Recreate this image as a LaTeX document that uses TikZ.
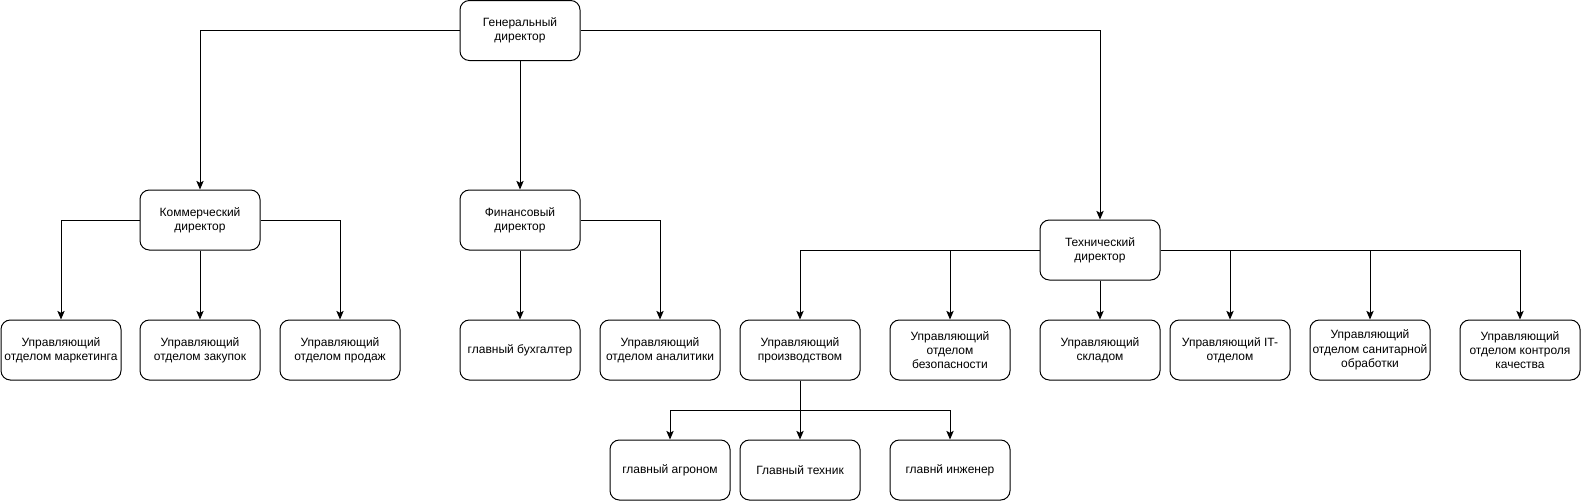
\documentclass[tikz,border=0pt]{standalone}
\usepackage{fontspec}
\setmainfont{Liberation Sans}
\usetikzlibrary{arrows.meta,calc}

\tikzset{
  box/.style={draw,line width=0.75pt,rounded corners=7pt,minimum width=90pt,
    minimum height=45pt,inner sep=1pt,align=center,
    font=\fontsize{9pt}{10.8pt}\selectfont},
  every path/.style={line width=0.75pt}
}

\begin{document}
\begin{tikzpicture}[>={Stealth[length=6.5pt,width=5.5pt,inset=1.5pt]},x=0.75pt,y=-0.75pt]

\useasboundingbox (0,0) rectangle (1581,501);

\node[box] (gendir) at (520,30.5) {Генеральный\\директор};

\node[box] (komdir) at (200,220) {Коммерческий\\директор};
\node[box] (findir) at (520,220) {Финансовый\\директор};
\node[box] (techdir) at (1100,250) {Технический\\директор};

\node[box] (marketing) at (61,350) {Управляющий\\отделом маркетинга};
\node[box] (zakupki) at (200,350) {Управляющий\\отделом закупок};
\node[box] (prodazhi) at (340,350) {Управляющий\\отделом продаж};
\node[box] (buh) at (520,350) {главный бухгалтер};
\node[box] (analitika) at (660,350) {Управляющий\\отделом аналитики};
\node[box] (proizv) at (800,350) {Управляющий\\производством};
\node[box] (bezop) at (950,350) {Управляющий\\отделом\\безопасности};
\node[box] (sklad) at (1100,350) {Управляющий\\складом};
\node[box] (itotdel) at (1230,350) {Управляющий IT-\\отделом};
\node[box] (sanit) at (1370,350) {Управляющий\\отделом санитарной\\обработки};
\node[box] (kachestvo) at (1520,350) {Управляющий\\отделом контроля\\качества};

\node[box] (agronom) at (670,470) {главный агроном};
\node[box] (tehnik) at (800,470) {Главный техник};
\node[box] (inzhener) at (950,470) {главнй инженер};

\coordinate (razv) at ($(proizv.south)!0.5!(tehnik.north)$);

\draw[->] (gendir.west) -| (komdir.north);
\draw[->] (gendir) -- (findir);
\draw[->] (gendir.east) -| (techdir.north);

\draw[->] (komdir.west) -| (marketing.north);
\draw[->] (komdir) -- (zakupki);
\draw[->] (komdir.east) -| (prodazhi.north);

\draw[->] (findir) -- (buh);
\draw[->] (findir.east) -| (analitika.north);

\draw[->] (techdir.west) -| (proizv.north);
\draw[->] (techdir.west) -| (bezop.north);
\draw[->] (techdir) -- (sklad);
\draw[->] (techdir.east) -| (itotdel.north);
\draw[->] (techdir.east) -| (sanit.north);
\draw[->] (techdir.east) -| (kachestvo.north);

\draw[->] (proizv) -- (tehnik);
\draw[->] (razv) -| (agronom.north);
\draw[->] (razv) -| (inzhener.north);

\end{tikzpicture}
\end{document}
